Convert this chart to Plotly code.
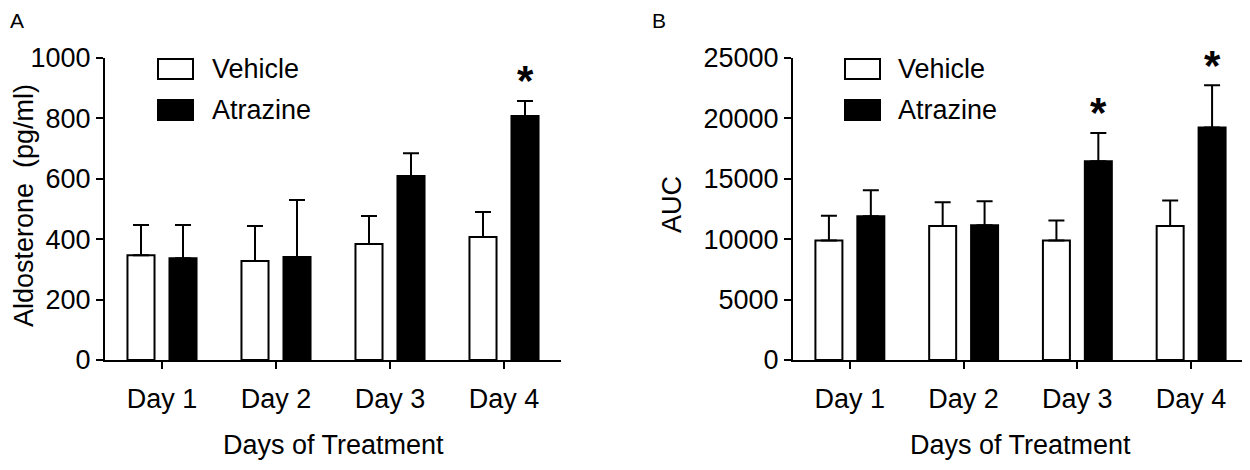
import plotly.graph_objects as go

# la page a une marge de 8 px : on travaille en pixels de la capture
OFF = 8
W, H = 1250 - OFF, 470 - OFF

# Données (moyenne + SEM)
days = ["Day 1", "Day 2", "Day 3", "Day 4"]
aldo_vehicle = [347, 328, 384, 407]
aldo_vehicle_sem = [100, 116, 93, 83]
aldo_atrazine = [337, 341, 609, 808]
aldo_atrazine_sem = [110, 189, 76, 50]

auc_vehicle = [9900, 11100, 9900, 11100]
auc_vehicle_sem = [2050, 1950, 1650, 2100]
auc_atrazine = [11900, 11150, 16450, 19250]
auc_atrazine_sem = [2150, 2000, 2350, 3500]

# jours significatifs (*) pour Atrazine
sig_a = ["Day 4"]
sig_b = ["Day 3", "Day 4"]

FONT = "Arial, Liberation Sans, sans-serif"
FS = 27


def px_x(p):
    return (p - OFF) / W


def px_y(p):
    return 1 - (p - OFF) / H


def bar(x, y, sem, fill, xa, ya, name):
    return go.Bar(
        x=x, y=y, name=name, xaxis=xa, yaxis=ya,
        marker=dict(color=fill, line=dict(color="black", width=2)),
        error_y=dict(type="data", array=sem, arrayminus=[0] * len(sem),
                     symmetric=False, color="black", thickness=2, width=8),
        showlegend=False,
    )


fig = go.Figure()
fig.add_trace(bar(days, aldo_vehicle, aldo_vehicle_sem, "white", "x", "y", "Vehicle"))
fig.add_trace(bar(days, aldo_atrazine, aldo_atrazine_sem, "black", "x", "y", "Atrazine"))
fig.add_trace(bar(days, auc_vehicle, auc_vehicle_sem, "white", "x2", "y2", "Vehicle"))
fig.add_trace(bar(days, auc_atrazine, auc_atrazine_sem, "black", "x2", "y2", "Atrazine"))

ydom = [px_y(360), px_y(58)]
common_x = dict(
    showline=True, linecolor="black", linewidth=2, ticks="outside", ticklen=7,
    tickwidth=2, tickcolor="black", range=[-0.5, 3.5], showgrid=False,
    zeroline=False, tickfont=dict(size=FS, color="black"), ticklabelstandoff=7,
)
common_y = dict(
    showline=True, linecolor="black", linewidth=2, ticks="outside", ticklen=7,
    tickwidth=2, tickcolor="black", showgrid=False, zeroline=False,
    tickfont=dict(size=FS, color="black"), domain=ydom, tickformat="d",
)

fig.update_layout(
    width=W, height=H,
    margin=dict(l=0, r=0, t=0, b=0, autoexpand=False),
    plot_bgcolor="white", paper_bgcolor="white",
    font=dict(family=FONT, color="black"),
    barmode="group", bargap=0.263, bargroupgap=0.356,
    xaxis=dict(common_x, domain=[px_x(105), px_x(561)], anchor="y"),
    yaxis=dict(common_y, range=[0, 1000], dtick=200, anchor="x"),
    xaxis2=dict(common_x, domain=[px_x(793), min(1, px_x(1248))], anchor="y2"),
    yaxis2=dict(common_y, range=[0, 25000], dtick=5000, anchor="x2"),
)

# Légendes dessinées à la main (boîtes larges comme l'original)
shapes = []
annotations = []
for box_x0, text_x in [(158, 210), (845, 896)]:
    for fill, label, yc in [("white", "Vehicle", 69), ("black", "Atrazine", 110)]:
        shapes.append(dict(type="rect", xref="paper", yref="paper",
                           x0=px_x(box_x0), x1=px_x(box_x0 + 35),
                           y0=px_y(yc + 10), y1=px_y(yc - 10),
                           fillcolor=fill, line=dict(color="black", width=2)))
        annotations.append(dict(text=label, xref="paper", yref="paper",
                                x=px_x(text_x), y=px_y(yc), xanchor="left",
                                yanchor="middle", showarrow=False,
                                font=dict(size=FS)))

# Astérisques au-dessus des barres Atrazine
for xa, ya, vals, sems, sig in [("x", "y", aldo_atrazine, aldo_atrazine_sem, sig_a),
                                 ("x2", "y2", auc_atrazine, auc_atrazine_sem, sig_b)]:
    for d in sig:
        i = days.index(d)
        annotations.append(dict(text="<b>*</b>", xref=xa, yref=ya, x=d,
                                y=vals[i] + sems[i], xshift=21, yshift=20,
                                yanchor="middle", showarrow=False,
                                font=dict(size=42)))

# Titres des axes et lettres des panneaux
annotations += [
    dict(text="Aldosterone&nbsp; (pg/ml)", xref="paper", yref="paper",
         x=px_x(24), y=px_y(206), xanchor="center", yanchor="middle",
         textangle=-90, showarrow=False, font=dict(size=FS)),
    dict(text="AUC", xref="paper", yref="paper", x=px_x(672), y=px_y(205),
         xanchor="center", yanchor="middle", textangle=-90, showarrow=False,
         font=dict(size=FS)),
    dict(text="Days of Treatment", xref="paper", yref="paper", x=px_x(333),
         y=px_y(445), xanchor="center", yanchor="middle", showarrow=False,
         font=dict(size=FS)),
    dict(text="Days of Treatment", xref="paper", yref="paper", x=px_x(1020),
         y=px_y(445), xanchor="center", yanchor="middle", showarrow=False,
         font=dict(size=FS)),
    dict(text="A", xref="paper", yref="paper", x=px_x(17), y=px_y(21),
         xanchor="center", yanchor="middle", showarrow=False,
         font=dict(size=21)),
    dict(text="B", xref="paper", yref="paper", x=px_x(659), y=px_y(21),
         xanchor="center", yanchor="middle", showarrow=False,
         font=dict(size=21)),
]

fig.update_layout(shapes=shapes, annotations=annotations)

fig.write_html("out.html")
